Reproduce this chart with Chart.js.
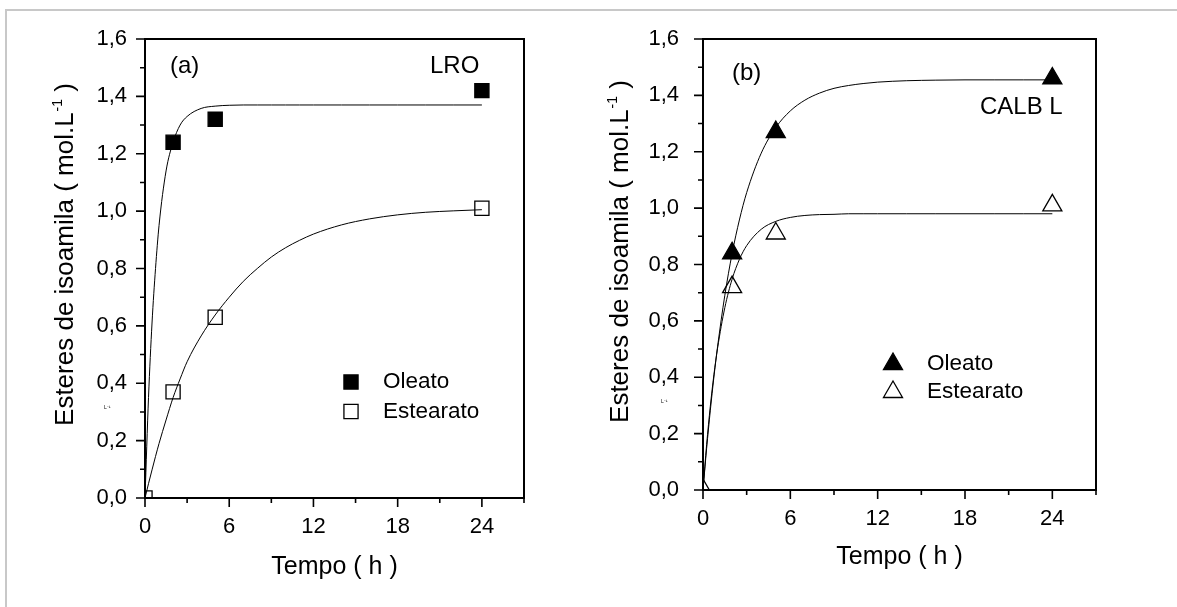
<!DOCTYPE html>
<html>
<head>
<meta charset="utf-8">
<script src="https://cdn.jsdelivr.net/npm/chart.js@4.4.1/dist/chart.umd.min.js"></script>
<style>
  body { margin: 0; background: #fff; width: 1177px; height: 607px; overflow: hidden; position: relative; }
  #frame { position: absolute; left: 5px; top: 9px; width: 1300px; height: 700px; border-top: 2px solid #c8c8c8; border-left: 2px solid #c8c8c8; }
  #chartA { position: absolute; left: 0; top: 0; }
  #chartB { position: absolute; left: 560px; top: 0; }
</style>
</head>
<body>
<div id="frame"></div>
<canvas id="chartA" width="560" height="607"></canvas>
<canvas id="chartB" width="617" height="607"></canvas>
<script>
// pontos experimentais (tempo em h, esteres em mol/L)
const tempoOleato = [2, 5, 24];
const tempoEstearato = [0, 2, 5, 24];
const lroOleato = [1.24, 1.32, 1.42];
const lroEstearato = [0, 0.37, 0.63, 1.01];
const calbOleato = [0.84, 1.27, 1.46];
const calbEstearato = [0, 0.72, 0.91, 1.01];

// curvas ajustadas
const tempoCurva = [0, 0.25, 0.5, 0.75, 1, 1.5, 2, 2.5, 3, 4, 5, 6, 7, 8, 9, 10, 11, 12, 14, 16, 18, 20, 22, 24];
const lroOleatoCurva = [0, 0.35, 0.61, 0.80, 0.95, 1.14, 1.24, 1.30, 1.33, 1.358, 1.366, 1.369, 1.37, 1.37, 1.37, 1.37, 1.37, 1.37, 1.37, 1.37, 1.37, 1.37, 1.37, 1.37];
const lroEstearatoCurva = [0, 0.05, 0.098, 0.145, 0.19, 0.272, 0.35, 0.415, 0.475, 0.565, 0.638, 0.70, 0.755, 0.80, 0.84, 0.872, 0.898, 0.92, 0.952, 0.973, 0.987, 0.996, 1.001, 1.005];
const calbOleatoCurva = [0, 0.148, 0.281, 0.401, 0.508, 0.691, 0.839, 0.958, 1.055, 1.195, 1.286, 1.345, 1.383, 1.408, 1.425, 1.435, 1.442, 1.447, 1.452, 1.454, 1.455, 1.455, 1.455, 1.455];
const calbEstearatoCurva = [0, 0.161, 0.296, 0.409, 0.503, 0.647, 0.748, 0.818, 0.867, 0.925, 0.953, 0.967, 0.974, 0.977, 0.978, 0.98, 0.98, 0.98, 0.98, 0.98, 0.98, 0.98, 0.98, 0.98];

const xTicks = { min: 0, max: 27, step: 3 };
const yTicks = { min: 0, max: 1.6, step: 0.1 };

const FONT = '"Liberation Sans", Arial, sans-serif';

function pts(xs, ys) {
  return xs.map((x, i) => ({ x: x, y: ys[i] }));
}

function curve(ys) {
  return {
    data: pts(tempoCurva, ys),
    showLine: true,
    pointRadius: 0,
    borderColor: '#000',
    borderWidth: 1,
    cubicInterpolationMode: 'monotone'
  };
}

function markers(xs, ys, style, radius, filled) {
  return {
    data: pts(xs, ys),
    showLine: false,
    pointStyle: style,
    pointRadius: radius,
    pointBorderWidth: 1.3,
    pointBorderColor: '#000',
    pointBackgroundColor: filled ? '#000' : 'rgba(0,0,0,0)'
  };
}

function drawYTitle(ctx, bx, cy) {
  const main = 'Esteres de isoamila ( mol.L';
  const sup = '-1';
  const tail = ' )';
  ctx.save();
  ctx.translate(bx, cy);
  ctx.rotate(-Math.PI / 2);
  ctx.fillStyle = '#000';
  ctx.textBaseline = 'alphabetic';
  ctx.textAlign = 'left';
  ctx.font = '26px ' + FONT;
  const w1 = ctx.measureText(main).width;
  const w3 = ctx.measureText(tail).width;
  ctx.font = '14px ' + FONT;
  const w2 = ctx.measureText(sup).width;
  let x0 = -(w1 + w2 + w3) / 2;
  ctx.font = '26px ' + FONT;
  ctx.fillText(main, x0, 0);
  ctx.font = '14px ' + FONT;
  ctx.fillText(sup, x0 + w1 + 1, -11);
  ctx.font = '26px ' + FONT;
  ctx.fillText(tail, x0 + w1 + w2 + 1, 0);
  ctx.restore();
}

function decorPlugin(p) {
  return {
    id: 'decor',
    afterDatasetsDraw(chart) {
      const { ctx, chartArea: area, scales: { x, y } } = chart;
      ctx.save();
      ctx.strokeStyle = '#000';
      ctx.lineWidth = 2;
      ctx.strokeRect(area.left, area.top, area.right - area.left, area.bottom - area.top);

      // marcas dos eixos (maiores nos rotulos)
      ctx.lineWidth = 1.6;
      ctx.beginPath();
      x.ticks.forEach(t => {
        const px = x.getPixelForValue(t.value);
        const len = Math.round(t.value) % 6 === 0 ? 9 : 5;
        ctx.moveTo(px, area.bottom);
        ctx.lineTo(px, area.bottom + len);
      });
      y.ticks.forEach(t => {
        const py = y.getPixelForValue(t.value);
        const len = Math.round(t.value * 10) % 2 === 0 ? 9 : 5;
        ctx.moveTo(area.left, py);
        ctx.lineTo(area.left - len, py);
      });
      ctx.stroke();

      // legenda
      ctx.textBaseline = 'middle';
      ctx.textAlign = 'left';
      p.legend.forEach(item => {
        ctx.fillStyle = item.filled ? '#000' : 'rgba(0,0,0,0)';
        ctx.strokeStyle = '#000';
        ctx.lineWidth = 1.3;
        Chart.helpers.drawPoint(ctx, { pointStyle: p.style, radius: p.radius, borderWidth: 1.3, rotation: 0 }, p.legendX, item.y);
        ctx.fillStyle = '#000';
        ctx.font = '22.5px ' + FONT;
        ctx.fillText(item.text, p.legendTextX, item.y);
      });

      // rotulos do painel
      ctx.font = '24px ' + FONT;
      p.notes.forEach(n => ctx.fillText(n.text, n.x, n.y));

      // resto de texto minusculo no original
      ctx.font = '5px ' + FONT;
      ctx.fillText('L⁻¹', p.tiny.x, p.tiny.y);

      drawYTitle(ctx, p.yTitleX, p.yTitleY);
      ctx.restore();
    }
  };
}

function makePanel(id, p, datasets) {
  return new Chart(document.getElementById(id), {
    type: 'scatter',
    data: { datasets: datasets },
    options: {
      responsive: false,
      animation: false,
      events: [],
      layout: { padding: { left: 0, right: p.padRight, top: 39, bottom: 0 } },
      plugins: { legend: { display: false }, tooltip: { enabled: false } },
      scales: {
        x: {
          type: 'linear',
          min: xTicks.min,
          max: xTicks.max,
          afterFit: s => { s.height = p.xAxisHeight; },
          grid: { display: false },
          border: { display: false },
          ticks: {
            stepSize: xTicks.step,
            autoSkip: false,
            maxRotation: 0,
            padding: p.xTickPad,
            color: '#000',
            font: { family: FONT, size: 22 },
            callback: v => Math.round(v) % 6 === 0 ? String(v) : ''
          },
          title: {
            display: true,
            text: 'Tempo ( h )',
            color: '#000',
            font: { family: FONT, size: 25 },
            padding: { top: 0, bottom: p.xTitlePad }
          }
        },
        y: {
          type: 'linear',
          min: yTicks.min,
          max: yTicks.max,
          afterFit: s => { s.width = p.yAxisWidth; },
          grid: { display: false },
          border: { display: false },
          ticks: {
            stepSize: yTicks.step,
            autoSkip: false,
            padding: p.yTickPad,
            color: '#000',
            font: { family: FONT, size: 22 },
            callback: v => Math.round(v * 10) % 2 === 0 ? v.toFixed(1).replace('.', ',') : ''
          }
        }
      }
    },
    plugins: [decorPlugin(p)]
  });
}

makePanel('chartA', {
  padRight: 36, xAxisHeight: 109, yAxisWidth: 145,
  xTickPad: 8, yTickPad: 10, xTitlePad: 25,
  style: 'rect', radius: 10,
  legendX: 351, legendTextX: 383,
  legend: [{ text: 'Oleato', y: 382, filled: true }, { text: 'Estearato', y: 411.5, filled: false }],
  notes: [{ text: '(a)', x: 170, y: 66 }, { text: 'LRO', x: 430, y: 66 }],
  tiny: { x: 104, y: 408 },
  yTitleX: 73, yTitleY: 255
}, [
  curve(lroOleatoCurva),
  curve(lroEstearatoCurva),
  markers(tempoOleato, lroOleato, 'rect', 10, true),
  markers(tempoEstearato, lroEstearato, 'rect', 10, false)
]);

makePanel('chartB', {
  padRight: 81, xAxisHeight: 117, yAxisWidth: 143,
  xTickPad: 8, yTickPad: 16, xTitlePad: 35,
  style: 'triangle', radius: 11,
  legendX: 333, legendTextX: 367,
  legend: [{ text: 'Oleato', y: 364, filled: true }, { text: 'Estearato', y: 392, filled: false }],
  notes: [{ text: '(b)', x: 172, y: 73 }, { text: 'CALB L', x: 420, y: 107 }],
  tiny: { x: 101, y: 402 },
  yTitleX: 68, yTitleY: 252
}, [
  curve(calbOleatoCurva),
  curve(calbEstearatoCurva),
  markers(tempoOleato, calbOleato, 'triangle', 11, true),
  markers(tempoEstearato, calbEstearato, 'triangle', 11, false)
]);
</script>
</body>
</html>
